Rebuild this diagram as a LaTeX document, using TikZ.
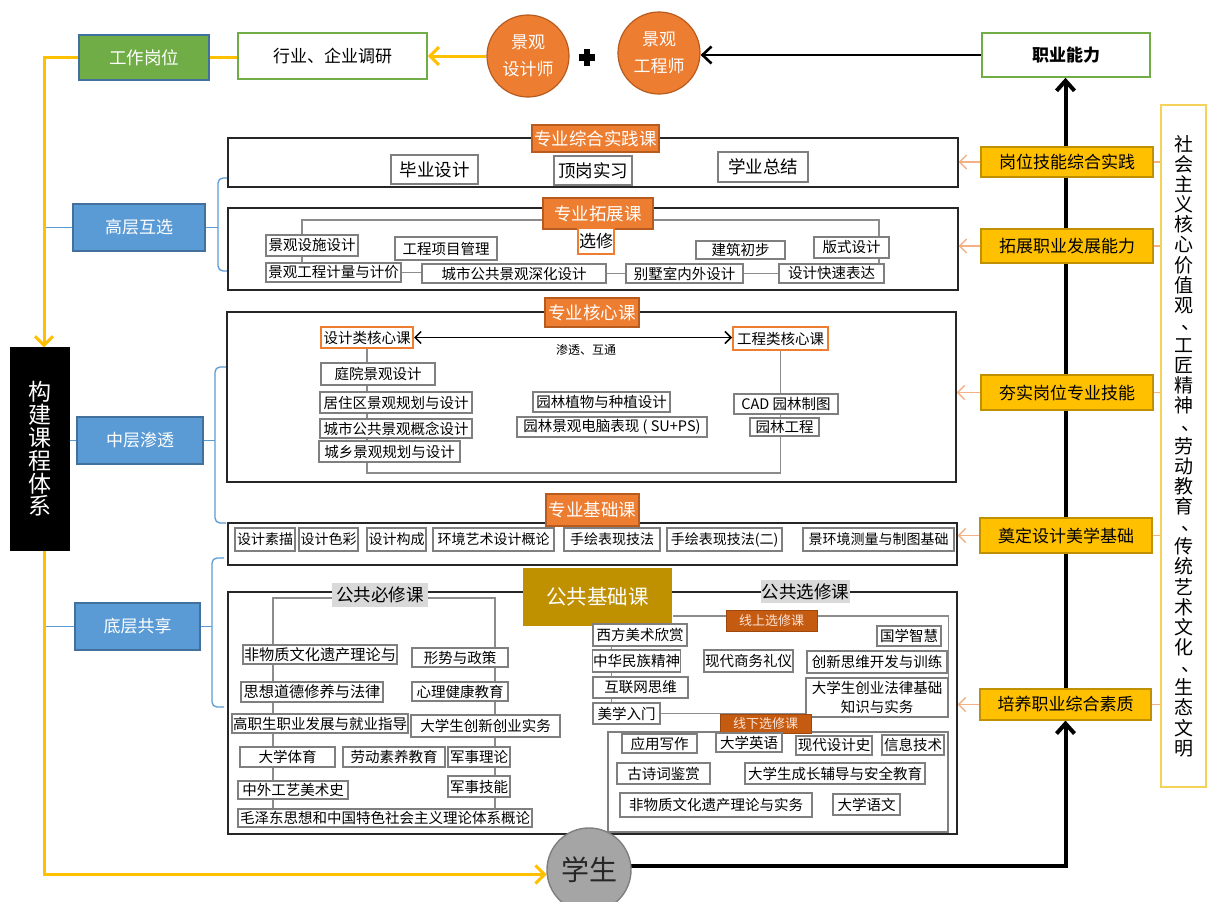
\documentclass[tikz,border=0pt]{standalone}
\usepackage{fontspec}
\setmainfont{Noto Sans CJK SC}
\usetikzlibrary{arrows.meta,backgrounds,calc}
\definecolor{lorange}{HTML}{ED7D31}
\definecolor{dorange}{HTML}{B85B1F}
\definecolor{rorange}{HTML}{C55A11}
\definecolor{lcream}{HTML}{FCE4D6}
\definecolor{goldc}{HTML}{BF9000}
\definecolor{ygold}{HTML}{FFC000}
\definecolor{dgold}{HTML}{BF9000}
\definecolor{bblue}{HTML}{5B9BD5}
\definecolor{dblue}{HTML}{41719C}
\definecolor{ggreen}{HTML}{70AD47}
\definecolor{boxgray}{HTML}{7F7F7F}
\definecolor{lgray}{HTML}{D9D9D9}
\definecolor{cgray}{HTML}{A5A5A5}
\definecolor{parrow}{HTML}{F4B183}
\definecolor{tallyel}{HTML}{F5D35B}
\definecolor{lineg}{HTML}{8C8C8C}
\newcommand\fsz[2]{\fontsize{#1}{#2}\selectfont}
\newcommand\vdun{\makebox[1em][l]{\hspace{0.38em}\raisebox{0.16em}{、}}}
\newcommand\bx[7][]{\node[ibox,minimum width=#5pt-#3pt,minimum height=#6pt-#4pt,#1] (#2) at ({(#3+#5)/2},{(#4+#6)/2}) {#7};}
\tikzset{
  ibox/.style={draw=boxgray,line width=1.2pt,fill=white,inner sep=0.5pt,text=black,font=\fsz{14.5}{17}},
  secbox/.style={draw=black!85,line width=1.3pt,fill=none},
  olab/.style={fill=lorange,draw=dorange,line width=1.2pt,text=white,font=\fsz{17.5}{20}},
  obox/.style={draw=lorange,line width=2pt},
  glab/.style={fill=lgray,draw=none,font=\fsz{17.5}{20}},
  rlab/.style={fill=rorange,draw=rorange!80!black,line width=0.8pt,text=lcream,font=\fsz{13}{15}},
  goldlab/.style={fill=goldc,draw=none,text=white,font=\fsz{20.5}{24}},
  ybox/.style={fill=ygold,draw=dgold,line width=1.2pt,font=\fsz{17}{20}},
  tallbox/.style={draw=tallyel,line width=1.6pt,align=center,font={\fsz{19}{20.13}\lineskiplimit=-50pt}},
  gjbox/.style={fill=black,draw=black,text=white,align=center,font={\fsz{23}{22.8}\lineskiplimit=-50pt}},
  bluebox/.style={fill=bblue,draw=dblue,line width=1.3pt,text=white,font=\fsz{17}{20}},
  gwbox/.style={fill=ggreen,draw=dblue,line width=1.3pt,text=white,font=\fsz{17.5}{20}},
  wgbox/.style={draw=ggreen,line width=1.6pt,font=\fsz{17}{20}},
  ocirc/.style={circle,fill=lorange,draw=dorange,line width=1.2pt,minimum size=82pt,inner sep=0pt,text=white,align=center,font={\fsz{17}{27}}},
  scirc/.style={circle,fill=cgray,draw=boxgray,line width=1.4pt,minimum size=84pt,inner sep=0pt,text=black!85,font=\fsz{28}{30}},
  gline/.style={draw=lineg,line width=1.1pt},
  yline/.style={draw=ygold,line width=3pt},
  bline/.style={draw=black,line width=2.6pt},
  mline/.style={draw=black,line width=4pt},
  blueln/.style={draw=bblue,line width=1.3pt},
  oarr/.style={draw=parrow,line width=1.4pt,-{Straight Barb[length=7pt,width=14pt]}},
  oline/.style={draw=parrow,line width=1.4pt},
}
\begin{document}
\begin{tikzpicture}[x=1pt,y=-1pt]
\useasboundingbox (0,0) rectangle (1208,902);
\begin{pgfonlayer}{background}
\fill[white] (0,0) rectangle (1208,902);
\end{pgfonlayer}

% ---------- top row
\bx[gwbox]{gw}{79}{35}{209}{80}{工作岗位}
\bx[wgbox]{hy}{238}{33}{427}{79}{行业、企业调研}
\node[ocirc] (c1) at (528,56) {景观\\设计师};
\node[ocirc] (c2) at (659,53) {景观\\工程师};
\fill (579,54) rectangle (595,60.5);
\fill (583.8,49) rectangle (590.2,65.5);
\bx[wgbox,font=\bfseries\fsz{17}{20}]{zy}{982}{33}{1150}{77}{职业能力}

% ---------- left column
\bx[gjbox]{gj}{11}{348}{69}{550}{构\\建\\课\\程\\体\\系}
\bx[bluebox]{gc}{73}{204}{205}{251}{高层互选}
\bx[bluebox]{zc}{77}{417}{203}{464}{中层渗透}
\bx[bluebox]{dc}{75}{603}{200}{650}{底层共享}
\coordinate (yx) at (44,0);
\coordinate (b1t) at (227,178); \coordinate (b1x) at (218,0); \coordinate (b1b) at (227,271);
\coordinate (b2t) at (226,367); \coordinate (b2x) at (215,0); \coordinate (b2b) at (226,523);
\coordinate (b3t) at (224,558); \coordinate (b3x) at (212,0); \coordinate (b3b) at (224,707);

% ---------- section 1
\bx[secbox]{s1}{228}{138}{958}{187}{}
\bx[olab]{l1}{532}{125}{659}{152}{专业综合实践课}
\bx[font=\fsz{17.5}{20}]{by}{391}{155}{478}{184}{毕业设计}
\bx[font=\fsz{17.5}{20}]{dg}{554}{156}{632}{185}{顶岗实习}
\bx[font=\fsz{17.5}{20}]{xy}{718}{152}{808}{182}{学业总结}

% ---------- section 2
\bx[secbox]{s2}{228}{208}{958}{290}{}
\bx[olab]{l2}{543}{198}{653}{229}{专业拓展课}
\bx{sssj}{266}{235}{358}{256}{景观设施设计}
\bx{gcxm}{395}{237}{497}{260}{工程项目管理}
\bx[obox,font=\fsz{17}{20}]{xx}{578}{228}{614}{254}{选修}
\bx{jzcb}{696}{241}{785}{259}{建筑初步}
\bx{bssj}{814}{237}{889}{258}{版式设计}
\bx{jlgc}{266}{263}{401}{282}{景观工程计量与计价}
\bx{csgg}{422}{264}{606}{283}{城市公共景观深化设计}
\bx{bsnw}{626}{264}{743}{283}{别墅室内外设计}
\bx{sjks}{779}{264}{884}{283}{设计快速表达}
\coordinate (tztop) at (0,220);

% ---------- section 3
\bx[secbox]{s3}{227}{312}{956}{482}{}
\bx[olab]{l3}{545}{298}{639}{327}{专业核心课}
\bx[obox]{sjl}{321}{327}{413}{348}{设计类核心课}
\bx[obox]{gcl}{733}{327}{828}{350}{工程类核心课}
\node[font=\fsz{12}{14},inner sep=0pt] (stht) at (586,350) {渗透、互通};
\bx{tyjg}{321}{363}{435}{385}{庭院景观设计}
\bx{jzq}{320}{392}{472}{413}{居住区景观规划与设计}
\bx{csgn}{320}{419}{472}{438}{城市公共景观概念设计}
\bx{cxjg}{319}{441}{460}{462}{城乡景观规划与设计}
\bx{ylzw}{533}{392}{670}{412}{园林植物与种植设计}
\bx{yldn}{517}{417}{707}{437}{园林景观电脑表现 ( SU+PS)}
\bx{cad}{734}{394}{838}{414}{CAD 园林制图}
\bx{ylgc}{750}{418}{819}{436}{园林工程}
\coordinate (corebot) at (0,473);

% ---------- section 4
\bx[secbox]{s4}{228}{523}{957}{565}{}
\bx[olab]{l4}{546}{494}{639}{526}{专业基础课}
\bx[font=\fsz{14}{17}]{sjsm}{235}{528}{295}{551}{设计素描}
\bx[font=\fsz{14}{17}]{sjsc}{299}{528}{358}{551}{设计色彩}
\bx[font=\fsz{14}{17}]{sjgc}{367}{528}{426}{551}{设计构成}
\bx[font=\fsz{14}{17}]{hjys}{433}{528}{554}{551}{环境艺术设计概论}
\bx[font=\fsz{14}{17}]{shbx}{564}{528}{660}{551}{手绘表现技法}
\bx[font=\fsz{14}{17}]{shbx2}{667}{528}{782}{551}{手绘表现技法(二)}
\bx[font=\fsz{14}{17}]{hjcl}{803}{528}{954}{551}{景环境测量与制图基础}

% ---------- section 5
\bx[secbox]{s5}{228}{592}{957}{834}{}
\bx[goldlab]{gold}{523}{568}{672}{626}{公共基础课}
\bx[glab]{bxk}{332}{583}{428}{607}{公共必修课}
\bx[glab]{xxk}{761}{580}{850}{603}{公共选修课}
\coordinate (bxl) at (273,598);
\coordinate (bxr) at (495,598);
\bx[font=\fsz{15.2}{17}]{fwz}{243}{645}{397}{664}{非物质文化遗产理论与}
\bx{xsz}{412}{648}{508}{667}{形势与政策}
\bx[font=\fsz{15.2}{17}]{sxd}{241}{682}{383}{702}{思想道德修养与法律}
\bx{xlj}{412}{682}{508}{701}{心理健康教育}
\bx{gzs}{232}{714}{408}{733}{高职生职业发展与就业指导}
\bx{cxc}{411}{715}{560}{737}{大学生创新创业实务}
\bx{dxty}{240}{747}{335}{767}{大学体育}
\bx{ldsy}{343}{747}{445}{767}{劳动素养教育}
\bx{jsll}{448}{747}{510}{767}{军事理论}
\bx{zwgy}{238}{781}{348}{799}{中外工艺美术史}
\bx{jsjn}{448}{776}{510}{797}{军事技能}
\bx{mzd}{238}{809}{532}{827}{毛泽东思想和中国特色社会主义理论体系概论}

\bx[rlab]{xsx}{726}{610}{817}{631}{线上选修课}
\bx{xfms}{593}{624}{687}{646}{西方美术欣赏}
\bx{zhmz}{593}{650}{680}{672}{中华民族精神}
\bx{xdsw}{704}{650}{793}{672}{现代商务礼仪}
\bx{gxzh}{877}{626}{941}{646}{国学智慧}
\bx{cxsw}{807}{651}{947}{673}{创新思维开发与训练}
\bx{hlw}{593}{677}{688}{698}{互联网思维}
\bx[align=center,font=\fsz{14.5}{19}]{cyfl}{806}{678}{948}{717}{大学生创业法律基础\\知识与实务}
\bx{mxrm}{593}{703}{660}{724}{美学入门}
\bx[draw=boxgray,fill=none,line width=1.3pt]{xxbox}{608}{732}{948}{832}{}
\bx[rlab]{xxx}{720}{714}{811}{733}{线下选修课}
\bx{yyxz}{622}{734}{697}{753}{应用写作}
\bx{dxyy}{716}{733}{782}{752}{大学英语}
\bx{xdsj}{796}{736}{872}{755}{现代设计史}
\bx{xxjs}{882}{735}{944}{755}{信息技术}
\bx{gscj}{617}{763}{710}{784}{古诗词鉴赏}
\bx{dxcz}{745}{763}{925}{784}{大学生成长辅导与安全教育}
\bx{fwz2}{620}{793}{812}{817}{非物质文化遗产理论与实务}
\bx{dxyw}{833}{794}{900}{815}{大学语文}

% ---------- right column
\bx[ybox]{r1}{981}{147}{1153}{177}{岗位技能综合实践}
\bx[ybox]{r2}{981}{229}{1153}{263}{拓展职业发展能力}
\bx[ybox]{r3}{981}{375}{1153}{410}{夯实岗位专业技能}
\bx[ybox]{r4}{980}{518}{1152}{553}{奠定设计美学基础}
\bx[ybox]{r5}{980}{689}{1151}{720}{培养职业综合素质}
\bx[tallbox]{tall}{1161}{105}{1206}{787}{社\\会\\主\\义\\核\\心\\价\\值\\观\\\vdun\\工\\匠\\精\\神\\\vdun\\劳\\动\\教\\育\\\vdun\\传\\统\\艺\\术\\文\\化\\\vdun\\生\\态\\文\\明}

% ---------- student
\node[scirc] (xs) at (589,870) {学生};

% ---------- connectors (under the nodes)
\begin{pgfonlayer}{background}
% section 2
\draw[gline] ([xshift=-10pt]sssj.north) -- ([xshift=-10pt]sssj.north |- tztop) -- ([xshift=27.5pt]bssj.north |- tztop) -- ([xshift=27.5pt]bssj.north);
\draw[gline] ([xshift=-10pt]sssj.south) -- ([xshift=-10pt]sssj.south |- jlgc.north);
\draw[gline] ([xshift=27.5pt]bssj.south) -- ([xshift=27.5pt]bssj.south |- sjks.north);
\draw[gline] (jlgc.east) -- (jlgc.east -| csgg.west);
\draw[gline] (csgg.east) -- (csgg.east -| bsnw.west);
\draw[gline] (bsnw.east) -- (bsnw.east -| sjks.west);
% section 3
\draw[gline] (sjl.south) -- (sjl.south |- corebot) -| (gcl.south);
% section 5
\draw[gline] (bxl |- mzd.north) -- (bxl) -- (bxr) -- (bxr |- mzd.north);
\draw[gline] ([yshift=4.5pt]xsx.west) -- ([yshift=4.5pt]xsx.west -| gold.east);
\draw[gline] ([yshift=4.5pt]xsx.east) -| (cyfl.north east);
\draw[gline] ([xshift=19pt]xfms.south west) -- ([xshift=19pt]xfms.south west |- mxrm.north);
\draw[gline] (mxrm.east) -- (mxrm.east -| cyfl.west);
% left brackets
\draw[blueln,rounded corners=5pt] (b1t) -- (b1t -| b1x) -- (b1b -| b1x) -- (b1b);
\draw[blueln,rounded corners=5pt] (b2t) -- (b2t -| b2x) -- (b2b -| b2x) -- (b2b);
\draw[blueln,rounded corners=5pt] (b3t) -- (b3t -| b3x) -- (b3b -| b3x) -- (b3b);
\draw[blueln] (gc.east) -- (gc.east -| b1x);
\draw[blueln] (zc.east) -- (zc.east -| b2x);
\draw[blueln] (dc.east) -- (dc.east -| b3x);
\draw[blueln] (gc.west) -- (gc.west -| yx);
\draw[blueln] (dc.west) -- (dc.west -| yx);
\draw[blueln] (zc.west) -- (zc.west -| gj.east);
% yellow flow
\draw[yline] (gw.east) -- (gw.east -| hy.west);
\draw[yline,-{Straight Barb[length=9pt,width=18pt]}] (c1.west) -- (c1.west -| hy.east);
\draw[yline,-{Straight Barb[length=9pt,width=18pt]}] (gw.west) -| ([xshift=4pt]gj.north);
\draw[yline,-{Straight Barb[length=9pt,width=18pt]}] ([xshift=4pt]gj.south) |- (xs.186);
% black flow
\draw[bline,-{Straight Barb[length=9pt,width=17pt]}] (zy.west) -- (zy.west -| c2.east);
\draw[mline,-{Straight Barb[length=10pt,width=18pt]}] (xs.6) -| (r5.south);
\draw[mline,-{Straight Barb[length=10pt,width=18pt]}] (r5.north) -- (r5.north |- zy.south);
% orange arrows
\foreach \r/\s in {r1/s1,r2/s2,r3/s3,r4/s4,r5/s5}{
  \draw[oarr] (\r.west) -- (\r.west -| \s.east);
  \draw[oline] (\r.east) -- (\r.east -| tall.west);
}
\end{pgfonlayer}
% double arrow in core
\draw[black,line width=1.5pt,{Straight Barb[length=6pt,width=12pt]}-{Straight Barb[length=6pt,width=12pt]}] (sjl.east) -- (sjl.east -| gcl.west);
\end{tikzpicture}
\end{document}
